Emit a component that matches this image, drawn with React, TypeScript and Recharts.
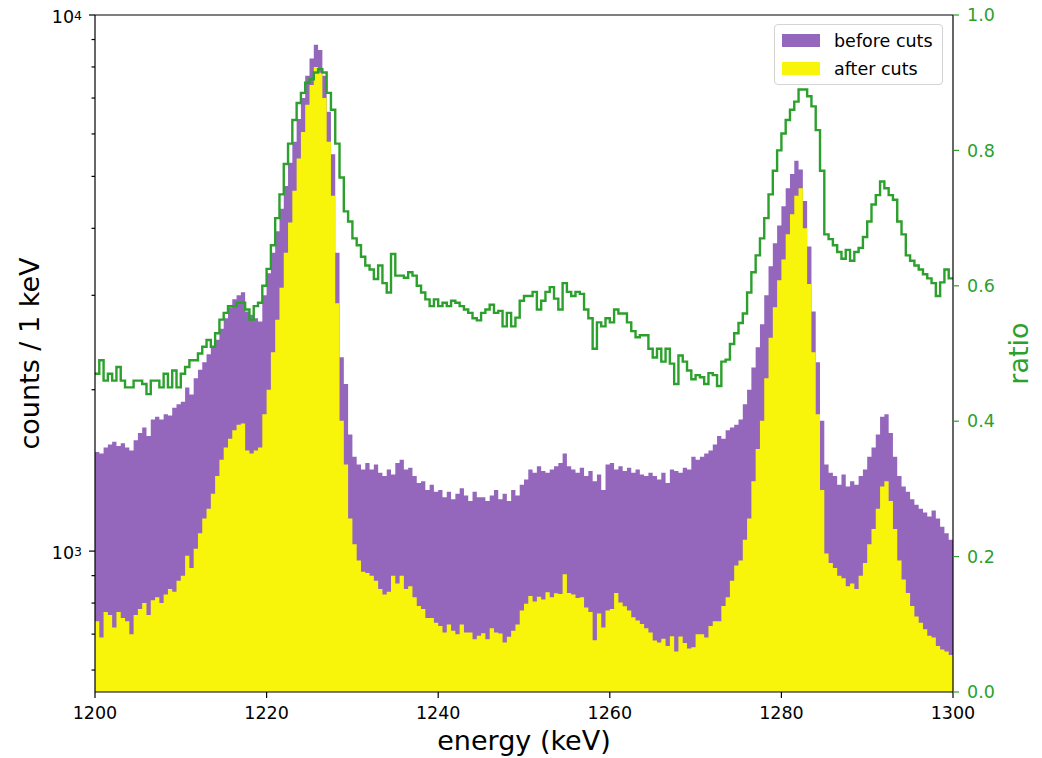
import { ComposedChart, Area, Line, XAxis, YAxis, ReferenceLine, Legend, Label } from 'recharts';

// histogram bins: 0.5 keV wide, starting at 1200 keV
const binStart = 1200;
const binWidth = 0.5;

const beforeCuts = [
  1530, 1520, 1560, 1580, 1600, 1570, 1590, 1560, 1540, 1610,
  1660, 1700, 1640, 1760, 1780, 1760, 1800, 1790, 1850, 1880,
  1900, 2020, 1960, 2100, 2180, 2250, 2330, 2400, 2480, 2600,
  2720, 2850, 2950, 3000, 3040, 2800, 2760, 2720, 2680, 3000,
  3300, 3600, 3950, 4350, 4800, 5300, 5800, 6400, 7000, 7700,
  8300, 8800, 8600, 7700, 6600, 5500, 3600, 2300, 2050, 1650,
  1500, 1450, 1420, 1460, 1420, 1450, 1400, 1380, 1420, 1390,
  1460, 1480, 1420, 1430, 1380, 1340, 1350, 1300, 1330, 1290,
  1300, 1260, 1290, 1250, 1280, 1310, 1270, 1240, 1290, 1260,
  1260, 1240, 1270, 1300, 1250, 1280, 1240, 1300, 1270, 1330,
  1360, 1420, 1400, 1440, 1410, 1400, 1420, 1440, 1460, 1520,
  1440, 1420, 1400, 1430, 1380, 1410, 1350, 1390, 1300, 1450,
  1460, 1420, 1440, 1410, 1430, 1400, 1420, 1390, 1380, 1400,
  1380, 1360, 1400, 1340, 1420, 1410, 1400, 1430, 1420, 1500,
  1480, 1500, 1520, 1540, 1580, 1640, 1620, 1680, 1700, 1720,
  1760, 1880, 2000, 2200, 2400, 2650, 3000, 3400, 3750, 4050,
  4400, 4750, 5050, 5350, 5150, 4500, 3700, 2800, 2250, 1750,
  1450, 1400, 1380, 1330, 1390, 1320, 1350, 1330, 1380, 1420,
  1500, 1560, 1650, 1780, 1800, 1660, 1500, 1380, 1320, 1290,
  1250, 1220, 1200, 1180, 1160, 1190, 1150, 1110, 1080, 1050,
];

const afterCuts = [
  740, 690, 770, 760, 720, 770, 750, 740, 700, 760,
  780, 800, 760, 810, 820, 800, 830, 850, 840, 880,
  900, 980, 930, 1010, 1080, 1150, 1200, 1280, 1380, 1480,
  1560, 1620, 1680, 1720, 1730, 1540, 1520, 1540, 1560, 1800,
  2000, 2350, 2700, 3100, 3600, 4100, 4700, 5400, 6050, 6800,
  7400, 8000, 7800, 7000, 5800, 4600, 2900, 1750, 1450, 1150,
  1030, 960, 915, 910, 900, 880, 850, 830, 840, 900,
  870, 900, 850, 860, 820, 790, 780, 750, 750, 735,
  725, 705, 730, 710, 700, 730, 705, 705, 685, 695,
  703, 685, 718, 705, 702, 675, 692, 710, 730, 775,
  798, 825, 805, 822, 812, 838, 820, 834, 832, 905,
  835, 830, 818, 820, 785, 770, 682, 765, 720, 775,
  780, 835, 802, 789, 775, 753, 742, 731, 718, 705,
  681, 675, 686, 665, 694, 650, 693, 674, 658, 662,
  700, 700, 690, 725, 740, 740, 790, 820, 880, 940,
  960, 1050, 1150, 1350, 1550, 1750, 2100, 2500, 2850, 3200,
  3500, 3900, 4250, 4600, 4750, 4000, 3150, 2350, 1800, 1300,
  990, 950, 930, 900, 890, 860, 870, 850, 900, 950,
  1030, 1100, 1200, 1320, 1350, 1240, 1100, 960, 885, 835,
  790, 755, 735, 715, 695, 690, 665, 655, 650, 640,
];

const ratio = [
  0.47, 0.49, 0.46, 0.47, 0.46, 0.48, 0.46, 0.45, 0.45, 0.46,
  0.46, 0.455, 0.44, 0.46, 0.46, 0.45, 0.47, 0.45, 0.475, 0.45,
  0.47, 0.48, 0.49, 0.49, 0.5, 0.51, 0.52, 0.51, 0.53, 0.55,
  0.56, 0.57, 0.57, 0.575, 0.575, 0.565, 0.55, 0.57, 0.575, 0.6,
  0.625, 0.66, 0.7, 0.735, 0.78, 0.81, 0.845, 0.87, 0.885, 0.9,
  0.905, 0.915, 0.92, 0.915, 0.885, 0.86, 0.81, 0.76, 0.71, 0.695,
  0.67, 0.66, 0.643, 0.63, 0.624, 0.61, 0.63, 0.604, 0.59, 0.647,
  0.615, 0.615, 0.612, 0.62, 0.615, 0.6, 0.59, 0.58, 0.57, 0.58,
  0.57, 0.575, 0.57, 0.578, 0.575, 0.57, 0.565, 0.56, 0.552, 0.549,
  0.56, 0.565, 0.572, 0.56, 0.563, 0.54, 0.56, 0.54, 0.553, 0.578,
  0.585, 0.585, 0.591, 0.565, 0.578, 0.591, 0.598, 0.581, 0.565, 0.604,
  0.591, 0.585, 0.591, 0.588, 0.565, 0.552, 0.507, 0.546, 0.54, 0.552,
  0.546, 0.565, 0.559, 0.559, 0.546, 0.533, 0.524, 0.527, 0.527, 0.507,
  0.494, 0.507, 0.488, 0.507, 0.485, 0.455, 0.497, 0.488, 0.475, 0.462,
  0.468, 0.465, 0.455, 0.471, 0.468, 0.452, 0.488, 0.491, 0.514, 0.53,
  0.545, 0.559, 0.59, 0.62, 0.645, 0.67, 0.7, 0.735, 0.77, 0.8,
  0.825, 0.845, 0.86, 0.872, 0.89, 0.89, 0.88, 0.865, 0.83, 0.77,
  0.676, 0.669, 0.66, 0.65, 0.64, 0.653, 0.637, 0.65, 0.656, 0.672,
  0.695, 0.72, 0.734, 0.754, 0.744, 0.734, 0.727, 0.695, 0.676, 0.645,
  0.637, 0.63, 0.624, 0.617, 0.611, 0.604, 0.585, 0.605, 0.624, 0.611,
];

const energyTicks = [1200, 1220, 1240, 1260, 1280, 1300];
const countTicks = [600, 700, 800, 900, 1000, 2000, 3000, 4000, 5000, 6000, 7000, 8000, 9000, 10000];
const ratioTicks = [0, 0.2, 0.4, 0.6, 0.8, 1.0];
const countDomain = [546, 10000];

const PURPLE = '#9467bd';
const YELLOW = '#f8f50a';
const GREEN = '#2ca02c';

const legendItems = [
  { name: 'before cuts', color: PURPLE },
  { name: 'after cuts', color: YELLOW },
];

// step data uses bin edges; the last bin is repeated at the closing edge (1300)
const last = beforeCuts.length - 1;
const data = beforeCuts.map((b, i) => ({
  energy: binStart + i * binWidth,
  before: b,
  after: afterCuts[i],
  ratio: ratio[i],
}));
data.push({
  energy: binStart + beforeCuts.length * binWidth,
  before: beforeCuts[last],
  after: afterCuts[last],
  ratio: ratio[last],
});

const CountTick = (props: any) => {
  const { x, y, payload } = props;
  const v = payload.value;
  const major = v === 1000 || v === 10000;
  return (
    <g>
      <line x1={x} x2={x - (major ? 6 : 3.5)} y1={y} y2={y} stroke="#000" strokeWidth={1.2} />
      {major && (
        <text x={x - 13} y={y + 8} textAnchor="end" fontSize={17.5} fill="#000">
          10
          <tspan dy={-3.5} fontSize={12.5}>
            {Math.round(Math.log10(v))}
          </tspan>
        </text>
      )}
    </g>
  );
};

const LegendBox = () => (
  <div
    style={{
      width: 169,
      height: 61,
      boxSizing: 'border-box',
      border: '1px solid #d4d4d4',
      borderRadius: 4,
      background: 'rgba(255,255,255,0.85)',
      paddingTop: 1.5,
      fontSize: 17.5,
    }}
  >
    {legendItems.map((item) => (
      <div key={item.name} style={{ display: 'flex', alignItems: 'center', height: 28 }}>
        <span style={{ display: 'inline-block', width: 38, height: 13, marginLeft: 7, background: item.color }} />
        <span style={{ marginLeft: 14, color: '#000', whiteSpace: 'nowrap' }}>{item.name}</span>
      </div>
    ))}
  </div>
);

export default function App() {
  return (
    <div
      style={{
        width: 1042,
        height: 758,
        margin: '-8px 0 0 -8px',
        fontFamily: "'DejaVu Sans', sans-serif",
        background: '#fff',
      }}
    >
      <ComposedChart width={1042} height={758} data={data} margin={{ top: 15, right: 29, bottom: 16, left: 35 }}>
        <XAxis
          dataKey="energy"
          type="number"
          domain={[1200, 1300]}
          ticks={energyTicks}
          allowDataOverflow
          height={50}
          tickSize={6}
          tickMargin={9}
          axisLine={{ stroke: '#000', strokeWidth: 1.2 }}
          tickLine={{ stroke: '#000', strokeWidth: 1.2 }}
          tick={{ fill: '#000', fontSize: 17.5 }}
        >
          <Label
            content={({ viewBox }: any) => (
              <text x={viewBox.x + viewBox.width / 2} y={750} textAnchor="middle" fontSize={27} fill="#000">
                energy (keV)
              </text>
            )}
          />
        </XAxis>
        <YAxis
          yAxisId="left"
          scale="log"
          domain={countDomain}
          ticks={countTicks}
          interval={0}
          allowDataOverflow
          width={60}
          tickSize={0}
          tickMargin={0}
          tickLine={false}
          axisLine={{ stroke: '#000', strokeWidth: 1.2 }}
          tick={<CountTick />}
        >
          <Label
            content={({ viewBox }: any) => {
              const cx = 39;
              const cy = viewBox.y + viewBox.height / 2;
              return (
                <text x={cx} y={cy} transform={`rotate(-90, ${cx}, ${cy})`} textAnchor="middle" fontSize={27} fill="#000">
                  counts / 1 keV
                </text>
              );
            }}
          />
        </YAxis>
        <YAxis
          yAxisId="right"
          orientation="right"
          domain={[0, 1]}
          ticks={ratioTicks}
          interval={0}
          width={60}
          tickSize={6}
          tickMargin={8}
          tickFormatter={(v: number) => v.toFixed(1)}
          axisLine={{ stroke: '#000', strokeWidth: 1.2 }}
          tickLine={{ stroke: GREEN, strokeWidth: 1.2 }}
          tick={{ fill: GREEN, fontSize: 17.5 }}
        >
          <Label
            content={({ viewBox }: any) => {
              const cx = 1028;
              const cy = viewBox.y + viewBox.height / 2;
              return (
                <text x={cx} y={cy} transform={`rotate(-90, ${cx}, ${cy})`} textAnchor="middle" fontSize={27} fill={GREEN}>
                  ratio
                </text>
              );
            }}
          />
        </YAxis>
        <Area
          yAxisId="left"
          type="stepAfter"
          dataKey="before"
          name="before cuts"
          stroke="none"
          fill={PURPLE}
          fillOpacity={1}
          baseValue={countDomain[0]}
          dot={false}
          activeDot={false}
          isAnimationActive={false}
        />
        <Area
          yAxisId="left"
          type="stepAfter"
          dataKey="after"
          name="after cuts"
          stroke="none"
          fill={YELLOW}
          fillOpacity={1}
          baseValue={countDomain[0]}
          dot={false}
          activeDot={false}
          isAnimationActive={false}
        />
        <Line
          yAxisId="right"
          type="stepAfter"
          dataKey="ratio"
          stroke={GREEN}
          strokeWidth={2.4}
          dot={false}
          activeDot={false}
          isAnimationActive={false}
        />
        <ReferenceLine yAxisId="left" y={10000} stroke="#000" strokeWidth={1.2} />
        <Legend
          layout="vertical"
          align="center"
          verticalAlign="middle"
          content={<LegendBox />}
          wrapperStyle={{ position: 'absolute', top: 24, left: 774, width: 169, height: 61 }}
        />
      </ComposedChart>
    </div>
  );
}
